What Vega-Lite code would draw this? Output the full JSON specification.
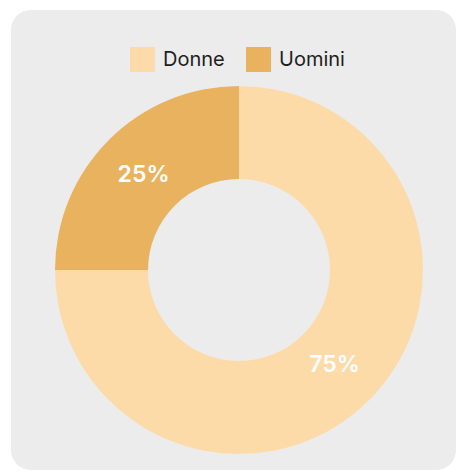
{
  "$schema": "https://vega.github.io/schema/vega-lite/v6.json",
  "width": 445,
  "height": 460,
  "autosize": {"type": "none"},
  "padding": {"left": 11, "top": 10, "right": 8, "bottom": 5},
  "background": "white",
  "config": {
    "view": {"fill": "#ececec", "stroke": null, "cornerRadius": 20},
    "font": "Inter"
  },
  "data": {
    "values": [
      {"genere": "Donne", "valore": 75, "etichetta": "75%"},
      {"genere": "Uomini", "valore": 25, "etichetta": "25%"}
    ]
  },
  "encoding": {
    "theta": {"field": "valore", "type": "quantitative", "stack": true},
    "order": {"field": "genere", "type": "nominal"},
    "x": {"value": 228},
    "y": {"value": 260}
  },
  "layer": [
    {
      "mark": {"type": "arc", "outerRadius": 184, "innerRadius": 91},
      "encoding": {
        "color": {
          "field": "genere",
          "type": "nominal",
          "scale": {"domain": ["Donne", "Uomini"], "range": ["#fddba8", "#e9b25f"]},
          "legend": {
            "title": null,
            "orient": "none",
            "direction": "horizontal",
            "legendX": 119,
            "legendY": 37,
            "padding": 0,
            "symbolType": "square",
            "symbolSize": 625,
            "symbolStrokeWidth": 0,
            "labelFontSize": 20,
            "labelColor": "#1e1e1e",
            "labelFont": "Inter",
            "labelOffset": 8,
            "columnPadding": 21
          }
        }
      }
    },
    {
      "mark": {"type": "text", "radius": 135, "fontSize": 23, "fontWeight": 600, "color": "white", "font": "Inter"},
      "encoding": {
        "text": {"field": "etichetta", "type": "nominal"}
      }
    }
  ]
}
